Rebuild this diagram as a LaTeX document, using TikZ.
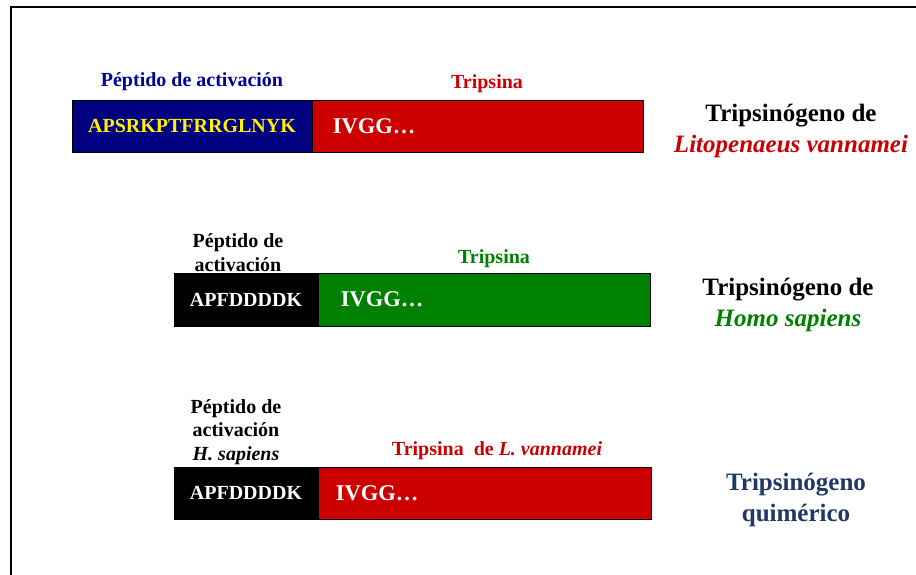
\documentclass[tikz,border=0pt]{standalone}
\usepackage{fontspec}
\setmainfont{Liberation Serif}
\usetikzlibrary{positioning}
\definecolor{navybox}{RGB}{0,0,128}
\definecolor{navytext}{RGB}{0,0,153}
\definecolor{trypred}{RGB}{204,0,0}
\definecolor{trypgreen}{RGB}{0,128,0}
\definecolor{chimblue}{RGB}{31,56,100}
\tikzset{% boxes and labels of the trypsinogen chains
        seg/.style={draw=black, line width=0.8pt, inner sep=0pt, minimum height=52pt,
                    font=\bfseries\fontsize{20}{24}\selectfont},
        chain/.style={seg, align=left, text=white,
                      font=\bfseries\fontsize{22.5}{26}\selectfont},
        lab/.style={inner sep=0pt, align=center, font=\bfseries\fontsize{20}{23.5}\selectfont},
        species/.style={inner sep=0pt, align=center, font=\bfseries\fontsize{25}{31}\selectfont}
        }

\begin{document}
\begin{tikzpicture}[x=1pt,y=-1pt]
\useasboundingbox (0,0) rectangle (916,574);
\draw [line width=2pt] (11,590) -- (11,7) -- (930,7);
% L. vannamei
\node [seg, fill=navybox, text=yellow, minimum width=240pt] (pa1) at (192,126) {APSRKPTFRRGLNYK};
\node [chain, fill=trypred, inner xsep=20pt, text width=291pt, right=0pt of pa1] (tr1) {IVGG…};
\node [lab, text=navytext] (pa1lab) at (192,82) {Péptido de activación};
\node [lab, text=trypred] (tr1lab) at (487,84) {Tripsina};
\node [species] (sp1) at (791,131) {Tripsinógeno de\\\textcolor{trypred}{\textit{Litopenaeus vannamei}}};
% H. sapiens
\node [seg, fill=black, text=white, minimum width=144pt, minimum height=53pt] (pa2) at (246,299.5) {APFDDDDK};
\node [chain, fill=trypgreen, inner xsep=22pt, text width=288pt, minimum height=53pt, right=0pt of pa2] (tr2) {IVGG…};
\node [lab] (pa2lab) at (238,252.5) {Péptido de\\activación};
\node [lab, text=trypgreen] (tr2lab) at (494,259) {Tripsina};
\node [species] (sp2) at (788,305) {Tripsinógeno de\\\textcolor{trypgreen}{\textit{Homo sapiens}}};
% quimera
\node [seg, fill=black, text=white, minimum width=144pt] (pa3) at (246,493) {APFDDDDK};
\node [chain, fill=trypred, inner xsep=17pt, text width=299pt, right=0pt of pa3] (tr3) {IVGG…};
\node [lab] (pa3lab) at (236,432) {Péptido de\\activación\\\textit{H. sapiens}};
\node [lab, text=trypred] (tr3lab) at (497,451) {Tripsina~ de \textit{L. vannamei}};
\node [species, text=chimblue] (sp3) at (796,500) {Tripsinógeno\\quimérico};
\end{tikzpicture}
\end{document}
